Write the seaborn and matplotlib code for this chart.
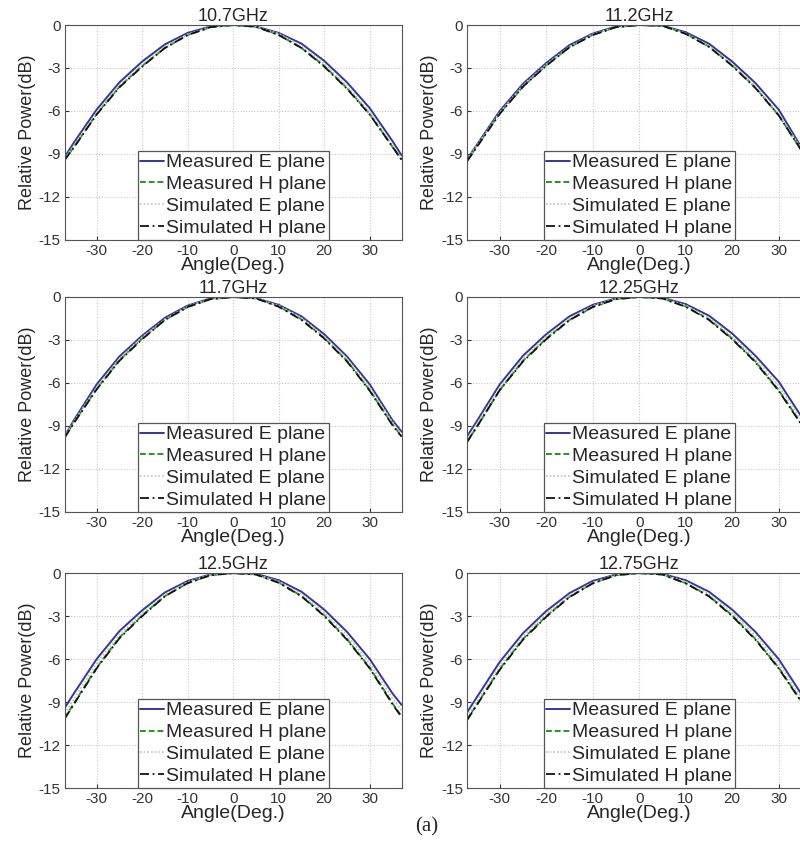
import numpy as np
import pandas as pd
import seaborn as sns
import matplotlib.pyplot as plt

freqs = ["10.7GHz", "11.2GHz", "11.7GHz", "12.25GHz", "12.5GHz", "12.75GHz"]
angles = [-37, -35, -30, -25, -20, -15, -10, -5, 0, 5, 10, 15, 20, 25, 30, 35, 37]

# one row per frequency, values in dB at the angles above
measured_e = [
    [-9.2, -8.2, -5.9, -4.0, -2.55, -1.35, -0.55, -0.1, 0, -0.1, -0.55, -1.3, -2.5, -4.0, -5.8, -8.1, -9.1],
    [-9.35, -8.4, -6.0, -4.1, -2.65, -1.4, -0.6, -0.1, 0, -0.05, -0.5, -1.3, -2.55, -4.05, -5.9, -8.6, -9.5],
    [-9.7, -8.6, -6.1, -4.15, -2.7, -1.45, -0.6, -0.1, 0, -0.08, -0.55, -1.35, -2.6, -4.15, -6.1, -8.6, -9.4],
    [-9.7, -8.7, -6.1, -4.1, -2.6, -1.35, -0.55, -0.1, 0, -0.05, -0.5, -1.3, -2.55, -4.1, -5.9, -8.4, -9.4],
    [-9.4, -8.4, -6.0, -4.05, -2.6, -1.35, -0.55, -0.1, 0, -0.05, -0.5, -1.3, -2.55, -4.1, -6.0, -8.4, -9.2],
    [-9.7, -8.7, -6.2, -4.2, -2.65, -1.4, -0.55, -0.1, 0, -0.05, -0.5, -1.3, -2.55, -4.1, -6.0, -8.5, -9.4],
]
measured_h = [
    [-9.4, -8.5, -6.2, -4.3, -2.85, -1.6, -0.7, -0.15, 0, -0.12, -0.68, -1.6, -2.85, -4.4, -6.2, -8.5, -9.4],
    [-9.45, -8.5, -6.15, -4.3, -2.8, -1.55, -0.68, -0.15, 0, -0.05, -0.6, -1.5, -2.8, -4.35, -6.3, -8.8, -9.6],
    [-9.75, -8.75, -6.4, -4.4, -2.9, -1.6, -0.7, -0.15, 0, -0.1, -0.65, -1.55, -2.85, -4.45, -6.5, -8.9, -9.7],
    [-10.1, -9.1, -6.5, -4.45, -2.9, -1.6, -0.7, -0.15, 0, -0.1, -0.65, -1.55, -2.9, -4.5, -6.5, -8.9, -9.8],
    [-10.1, -9.1, -6.6, -4.5, -2.95, -1.6, -0.7, -0.15, 0, -0.1, -0.65, -1.6, -2.95, -4.6, -6.6, -9.1, -10.0],
    [-10.2, -9.2, -6.7, -4.6, -3.0, -1.65, -0.7, -0.15, 0, -0.1, -0.7, -1.6, -2.95, -4.6, -6.6, -9.0, -9.9],
]
simulated_e = [
    [-9.3, -8.4, -6.1, -4.2, -2.75, -1.5, -0.65, -0.12, 0, -0.1, -0.6, -1.45, -2.7, -4.25, -6.1, -8.35, -9.3],
    [-9.4, -8.45, -6.1, -4.2, -2.75, -1.5, -0.65, -0.12, 0, -0.05, -0.58, -1.45, -2.75, -4.3, -6.2, -8.65, -9.5],
    [-9.7, -8.7, -6.3, -4.3, -2.8, -1.55, -0.65, -0.12, 0, -0.08, -0.6, -1.45, -2.75, -4.3, -6.3, -8.75, -9.6],
    [-9.9, -8.9, -6.3, -4.3, -2.75, -1.5, -0.62, -0.12, 0, -0.08, -0.58, -1.45, -2.75, -4.3, -6.2, -8.65, -9.6],
    [-9.8, -8.8, -6.3, -4.3, -2.8, -1.5, -0.62, -0.12, 0, -0.08, -0.58, -1.45, -2.75, -4.35, -6.3, -8.75, -9.6],
    [-10.0, -9.0, -6.5, -4.4, -2.85, -1.55, -0.65, -0.12, 0, -0.08, -0.6, -1.45, -2.75, -4.35, -6.3, -8.75, -9.6],
]
simulated_h = [
    [-9.4, -8.55, -6.25, -4.35, -2.9, -1.6, -0.7, -0.15, 0, -0.12, -0.7, -1.6, -2.9, -4.45, -6.25, -8.5, -9.4],
    [-9.5, -8.55, -6.2, -4.3, -2.85, -1.55, -0.7, -0.15, 0, -0.05, -0.62, -1.52, -2.85, -4.4, -6.3, -8.8, -9.6],
    [-9.8, -8.8, -6.45, -4.45, -2.95, -1.6, -0.7, -0.15, 0, -0.1, -0.68, -1.6, -2.9, -4.5, -6.55, -8.95, -9.75],
    [-10.1, -9.1, -6.5, -4.5, -2.95, -1.62, -0.7, -0.15, 0, -0.1, -0.68, -1.6, -2.95, -4.55, -6.55, -8.95, -9.85],
    [-10.15, -9.15, -6.65, -4.55, -3.0, -1.62, -0.7, -0.15, 0, -0.1, -0.68, -1.62, -3.0, -4.65, -6.65, -9.15, -10.05],
    [-10.25, -9.25, -6.75, -4.65, -3.05, -1.68, -0.72, -0.15, 0, -0.1, -0.72, -1.62, -3.0, -4.65, -6.65, -9.05, -9.95],
]

series = ["Measured E plane", "Measured H plane", "Simulated E plane", "Simulated H plane"]
colors = ["#34349f", "#1f9a1f", "#c8c0c0", "#111111"]
styles = ["-", (0, (3, 1.5)), (0, (1, 1.2)), (0, (5, 2, 1, 2))]
widths = [1.4, 1.4, 1.2, 1.3]

sns.set_style("ticks")
plt.rcParams['font.family'] = ['Liberation Sans', 'DejaVu Sans']
plt.rcParams['axes.unicode_minus'] = False

fig = plt.figure(figsize=(8, 8.42), dpi=100)
lefts = [0.081, 0.584]
bottoms = [0.715, 0.392, 0.0641]

for i, f in enumerate(freqs):
    row, col = divmod(i, 2)
    ax = fig.add_axes([lefts[col], bottoms[row], 0.43 if col else 0.421, 0.2553])
    rows = []
    for name, data in zip(series, [measured_e, measured_h, simulated_e, simulated_h]):
        for a, v in zip(angles, data[i]):
            rows.append({"Angle": a, "Power": v, "Series": name})
    df = pd.DataFrame(rows)
    for name, c, ls, lw in zip(series, colors, styles, widths):
        sub = df[df["Series"] == name]
        sns.lineplot(data=sub, x="Angle", y="Power", ax=ax, color=c, lw=lw,
                     linestyle=ls, label=name, sort=False)
    ax.set_xlim(-37, 37)
    ax.set_ylim(-15, 0)
    ax.set_xticks([-30, -20, -10, 0, 10, 20, 30])
    ax.set_yticks([0, -3, -6, -9, -12, -15])
    ax.grid(True, color="#c8c8c8", linestyle=(0, (1, 1.5)), linewidth=0.8)
    ax.tick_params(direction="in", labelsize=11, length=3, pad=3, colors="#333333")
    for s in ax.spines.values():
        s.set_color("#555555")
        s.set_linewidth(0.8)
    ax.set_title(f, fontsize=13, pad=1)
    ax.set_xlabel("Angle(Deg.)", fontsize=14, labelpad=-1)
    ax.set_ylabel("Relative Power(dB)", fontsize=13, labelpad=2)
    leg = ax.legend(loc="lower center", fontsize=14, handlelength=1.2, handletextpad=0.1,
                    labelspacing=0.22, borderaxespad=0, borderpad=0.15, fancybox=False,
                    framealpha=1)
    leg.get_frame().set_edgecolor("#555555")
    leg.get_frame().set_linewidth(0.9)

fig.text(0.533, 0.018, "(a)", fontsize=15, ha="center", va="center", family="Liberation Serif")
fig.savefig("out.png", dpi=100)
